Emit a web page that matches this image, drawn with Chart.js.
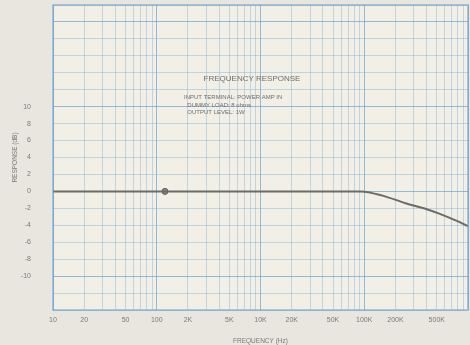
<!DOCTYPE html>
<html lang="en">
<head>
  <meta charset="UTF-8">
  <title>Frequency Response</title>
  <script src="https://cdn.jsdelivr.net/npm/chart.js"></script>
  <style>
    body {
      margin: 0;
      background: #e8e6df;
    }
    #wrap {
      width: 470px;
      height: 345px;
    }
  </style>
</head>
<body>
  <div id="wrap"><canvas id="freqChart"></canvas></div>

  <script>
    // curve
    const freq = [10, 100, 1000, 5000, 9300, 15000, 25000, 40000, 52000, 75000, 100000];
    const response = [0, 0, 0, 0, 0, -0.5, -1.4, -2.1, -2.6, -3.4, -4.1];

    // reference point marker
    const markFreq = [120];
    const markLevel = [0];

    // x tick labels as printed on the sheet
    const xTickValues = [10, 20, 50, 100, 200, 500, 1000, 2000, 5000, 10000, 20000, 50000];
    const xTickLabels = ['10', '20', '50', '100', '2K', '5K', '10K', '20K', '50K', '100K', '200K', '500K'];

    const yTickLabels = [10, 8, 6, 4, 2, 0, -2, -4, -6, -8, -10];

    const noteLines = ['INPUT TERMINAL: POWER AMP IN', '  DUMMY LOAD: 8 ohms', '  OUTPUT LEVEL: 1W'];

    const textColor = '#7a7a76';
    const gridColor = 'rgba(125,172,212,0.42)';
    const gridMajor = 'rgba(100,155,205,0.65)';

    // all log-paper lines 1..9 per decade
    const gridValues = [];
    for (let d = 10; d <= 100000; d *= 10) {
      for (let m = 1; m <= 9; m++) {
        if (d * m <= 100000) gridValues.push(d * m);
      }
    }

    const paperPlugin = {
      id: 'paper',
      beforeDraw(chart) {
        const { ctx, chartArea: a } = chart;
        ctx.save();
        ctx.fillStyle = '#f1efe6';
        ctx.fillRect(a.left, a.top, a.right - a.left, a.bottom - a.top);
        ctx.restore();
      },
      afterDraw(chart) {
        const { ctx, chartArea: a } = chart;
        ctx.save();
        ctx.strokeStyle = gridMajor;
        ctx.lineWidth = 1.5;
        ctx.strokeRect(a.left, a.top, a.right - a.left, a.bottom - a.top);
        ctx.fillStyle = '#6e6e6a';
        ctx.font = '8px "Liberation Sans", Arial, sans-serif';
        ctx.textAlign = 'center';
        ctx.fillText('FREQUENCY RESPONSE', 252, 81);
        ctx.font = '6px "Liberation Sans", Arial, sans-serif';
        ctx.textAlign = 'left';
        noteLines.forEach((t, i) => ctx.fillText(t, 184, 99 + i * 7.5));
        ctx.restore();
      }
    };

    const ctx = document.getElementById('freqChart').getContext('2d');
    new Chart(ctx, {
      type: 'line',
      data: {
        datasets: [{
          label: 'Response',
          data: freq.map((f, i) => ({ x: f, y: response[i] })),
          borderColor: '#6b6b68',
          borderWidth: 2,
          pointRadius: 0,
          cubicInterpolationMode: 'monotone',
          fill: false
        }, {
          label: 'Ref',
          data: markFreq.map((f, i) => ({ x: f, y: markLevel[i] })),
          showLine: false,
          pointRadius: 3,
          pointBackgroundColor: '#8a8682',
          pointBorderColor: '#5e5b58',
          pointBorderWidth: 1
        }]
      },
      plugins: [paperPlugin],
      options: {
        responsive: true,
        maintainAspectRatio: false,
        animation: false,
        layout: { autoPadding: false, padding: { top: 5, right: 2, left: 0, bottom: 0 } },
        plugins: {
          legend: { display: false },
          tooltip: { enabled: false }
        },
        scales: {
          x: {
            type: 'logarithmic',
            min: 10,
            max: 100000,
            afterBuildTicks: s => { s.ticks = gridValues.map(v => ({ value: v })); },
            afterFit: s => { s.height = 35; s.paddingLeft = 0; s.paddingRight = 0; },
            grid: {
              drawTicks: false,
              color: c => {
                const v = c.tick && c.tick.value;
                return (v && Math.abs(Math.log10(v) % 1) < 1e-6) ? gridMajor : gridColor;
              },
              lineWidth: 1
            },
            border: { display: false },
            ticks: {
              autoSkip: false,
              maxRotation: 0,
              padding: 6,
              color: textColor,
              font: { size: 7, family: '"Liberation Sans", Arial, sans-serif' },
              callback: v => {
                const i = xTickValues.indexOf(v);
                return i >= 0 ? xTickLabels[i] : '';
              }
            },
            title: {
              display: true,
              text: 'FREQUENCY (Hz)',
              color: textColor,
              font: { size: 6.5, family: '"Liberation Sans", Arial, sans-serif' },
              padding: { top: 0, bottom: 0 }
            }
          },
          y: {
            min: -14,
            max: 22,
            afterFit: s => { s.width = 53; s.paddingTop = 0; s.paddingBottom = 0; },
            grid: {
              drawTicks: false,
              color: c => (c.tick && c.tick.value % 10 === 0) ? gridMajor : gridColor,
              lineWidth: 1
            },
            border: { display: false },
            ticks: {
              stepSize: 2,
              autoSkip: false,
              padding: 22,
              color: textColor,
              font: { size: 7, family: '"Liberation Sans", Arial, sans-serif' },
              callback: v => yTickLabels.includes(v) ? String(v) : ''
            },
            title: {
              display: true,
              text: 'RESPONSE (dB)',
              color: textColor,
              font: { size: 6.5, family: '"Liberation Sans", Arial, sans-serif' },
              padding: { top: 11, bottom: 0 }
            }
          }
        }
      }
    });
  </script>
</body>
</html>
